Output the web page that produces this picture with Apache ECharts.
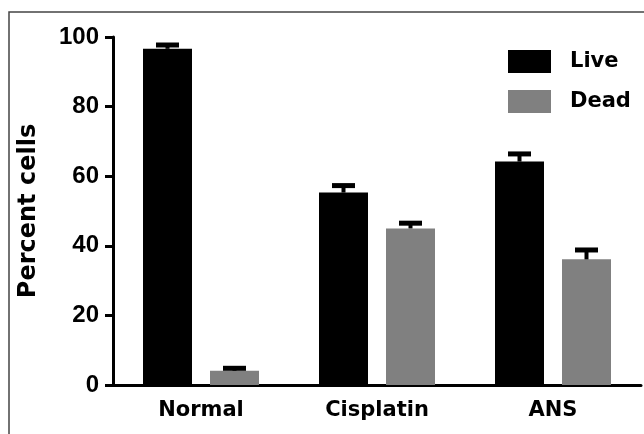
<!DOCTYPE html>
<html>
<head>
<meta charset="utf-8">
<style>
html,body{margin:0;padding:0;background:#fff;}
#chart{width:644px;height:434px;}
</style>
<script src="https://cdn.jsdelivr.net/npm/echarts@6/dist/echarts.min.js"></script>
</head>
<body>
<div id="chart"></div>
<script>
const categories = ['Normal', 'Cisplatin', 'ANS'];
const seriesNames = ['Live', 'Dead'];
const liveValues = [96.6, 55.3, 64.2];
const deadValues = [4.1, 45.0, 36.1];
const liveErrors = [1.1, 2.0, 2.2];
const deadErrors = [0.7, 1.5, 2.7];
const yMin = 0, yMax = 100, yStep = 20;

const BAR_W = 49, BAR_GAP = 18;

function errorSeries(values, errors, side) {
  const data = values.map((v, i) => [i, v, v + errors[i]]);
  return {
    type: 'custom',
    z: 10,
    silent: true,
    data: data,
    encode: { x: 0, y: [1, 2] },
    renderItem: function (params, api) {
      const c = api.value(0);
      const lo = api.coord([c, api.value(1)]);
      const hi = api.coord([c, api.value(2)]);
      const x = lo[0] + side * (BAR_W + BAR_GAP) / 2;
      const capW = 23;
      return {
        type: 'group',
        children: [
          { type: 'line', shape: { x1: x, y1: lo[1], x2: x, y2: hi[1] },
            style: { stroke: '#000', lineWidth: 4 } },
          { type: 'line', shape: { x1: x - capW / 2, y1: hi[1], x2: x + capW / 2, y2: hi[1] },
            style: { stroke: '#000', lineWidth: 5, lineCap: 'butt' } }
        ]
      };
    }
  };
}

const chart = echarts.init(document.getElementById('chart'), null, { renderer: 'canvas' });
chart.setOption({
  animation: false,
  backgroundColor: '#fff',
  graphic: [{
    type: 'rect', z: -1, silent: true,
    shape: { x: 9, y: 12, width: 700, height: 500 },
    style: { fill: 'none', stroke: '#444', lineWidth: 1.5 }
  }],
  grid: { left: 113, right: 3, top: 37, bottom: 49 },
  legend: {
    orient: 'vertical',
    left: 508, top: 50, padding: 0,
    itemWidth: 43, itemHeight: 23, itemGap: 17,
    icon: 'rect',
    data: seriesNames,
    textStyle: { fontFamily: 'DejaVu Sans', fontWeight: 'bold', fontSize: 21, color: '#000', padding: [0, 0, 0, 14] }
  },
  xAxis: {
    type: 'category',
    data: categories,
    axisLine: { lineStyle: { color: '#000', width: 3 } },
    axisTick: { alignWithLabel: true, length: 8, lineStyle: { color: '#000', width: 3 } },
    axisLabel: { margin: 15, color: '#000', fontFamily: 'DejaVu Sans', fontWeight: 'bold', fontSize: 21 }
  },
  yAxis: {
    type: 'value',
    min: yMin, max: yMax, interval: yStep,
    name: 'Percent cells',
    nameLocation: 'middle',
    nameGap: 72,
    nameTextStyle: { color: '#000', fontFamily: 'DejaVu Sans', fontWeight: 'bold', fontSize: 24 },
    splitLine: { show: false },
    axisLine: { show: true, lineStyle: { color: '#000', width: 3 } },
    axisTick: { show: true, length: 8, lineStyle: { color: '#000', width: 3 } },
    axisLabel: { margin: 14, color: '#000', fontFamily: 'Liberation Sans', fontWeight: 'bold', fontSize: 24 }
  },
  series: [
    { name: 'Live', type: 'bar', data: liveValues, barWidth: BAR_W, barGap: (BAR_GAP / BAR_W * 100) + '%',
      itemStyle: { color: '#000' } },
    { name: 'Dead', type: 'bar', data: deadValues, barWidth: BAR_W,
      itemStyle: { color: '#808080' } },
    errorSeries(liveValues, liveErrors, -1),
    errorSeries(deadValues, deadErrors, 1)
  ]
});
</script>
</body>
</html>
